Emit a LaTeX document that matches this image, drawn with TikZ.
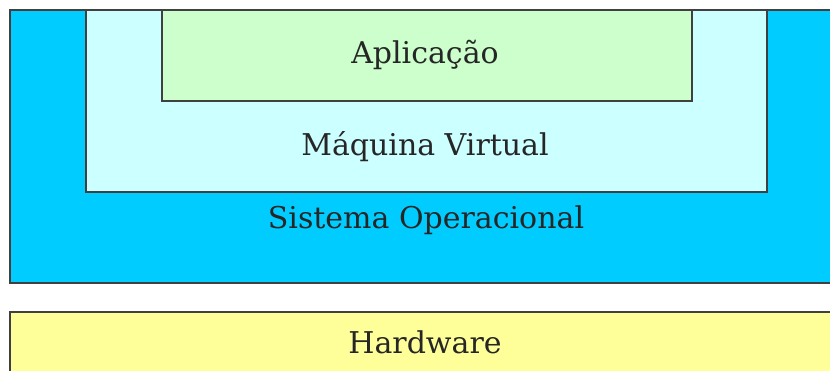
\documentclass[tikz,border=0pt]{standalone}
\usepackage{fontspec}
\setmainfont{DejaVu Serif}
\tikzset{
  layer/.style={draw=black!75, line width=1.5pt},
  lbl/.style={font=\fontsize{30}{36}\selectfont, text=black!85},
}
\begin{document}
\begin{tikzpicture}[x=1pt,y=-1pt]
  \useasboundingbox (0,0) rectangle (830,370);
  % operating system layer (runs off the right edge)
  \path[layer, fill={rgb,255:red,0;green,204;blue,255}] (10,10) rectangle (832,283);
  % virtual machine
  \path[layer, fill={rgb,255:red,204;green,255;blue,255}] (86,10) rectangle (767,192);
  % application
  \path[layer, fill={rgb,255:red,204;green,255;blue,204}] (162,10) rectangle (692,101);
  % hardware
  \path[layer, fill={rgb,255:red,255;green,255;blue,153}] (10,312) rectangle (832,372);
  \node[lbl] (app) at (425,55) {Aplicação};
  \node[lbl] (vm) at (425,147) {Máquina Virtual};
  \node[lbl] (os) at (426,220) {Sistema Operacional};
  \node[lbl] (hw) at (425,342) {Hardware};
\end{tikzpicture}
\end{document}
